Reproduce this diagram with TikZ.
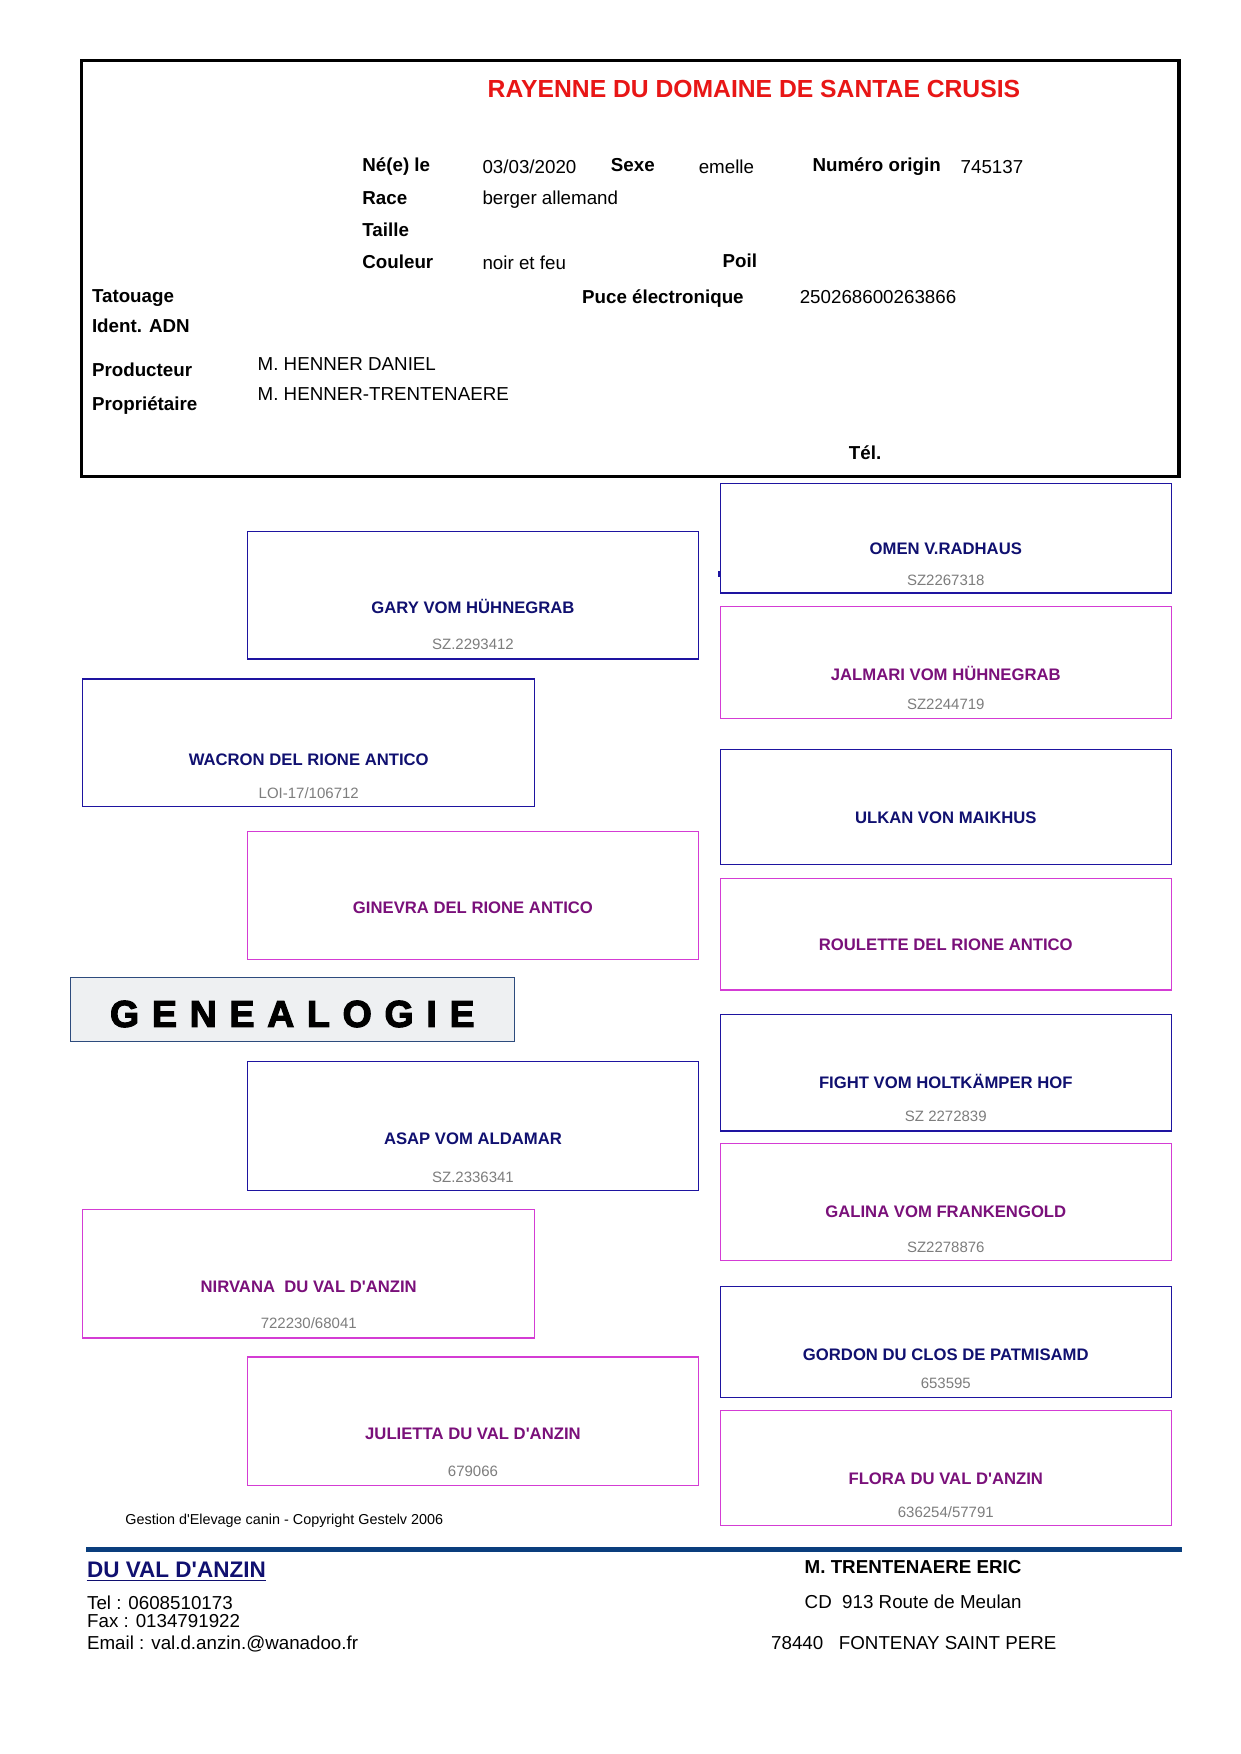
\documentclass[tikz,border=0pt]{standalone}
\usepackage{fontspec}
\setmainfont{Liberation Sans}
\newfontfamily\blackfont[FakeBold=3]{Liberation Sans Bold}
\newcommand{\apo}{\textquotesingle}
\definecolor{navyT}{RGB}{16,16,112}
\definecolor{purpT}{RGB}{122,16,122}
\definecolor{grayT}{RGB}{125,125,125}
\definecolor{boxB}{RGB}{30,20,160}
\definecolor{boxM}{RGB}{212,60,212}
\definecolor{titleR}{RGB}{232,22,22}
\definecolor{footB}{RGB}{10,62,125}
\definecolor{genFill}{RGB}{238,240,242}
\definecolor{genDraw}{RGB}{45,75,125}
\begin{document}
\begin{tikzpicture}[x=0.5367pt,y=-0.5367pt,
  lab/.style={font=\fontsize{9}{10}\selectfont\bfseries, anchor=base west, inner sep=0pt},
  val/.style={font=\fontsize{9}{10}\selectfont, anchor=base west, inner sep=0pt},
  nmb/.style={font=\fontsize{8}{9}\selectfont\bfseries, text=navyT, anchor=base, inner sep=0pt},
  nmm/.style={nmb, text=purpT},
  reg/.style={font=\fontsize{7.2}{8}\selectfont, text=grayT, anchor=base, inner sep=0pt},
  bbox/.style={draw=boxB, line width=0.6pt},
  mbox/.style={draw=boxM, line width=0.6pt}]
\useasboundingbox (0,0) rectangle (1109,1568);
\fill[white] (0,0) rectangle (1109,1568);

% ---------- header box ----------
\draw[line width=1.6pt] (73,54) rectangle (1054,426);
\node[font=\fontsize{11.85}{13}\selectfont\bfseries, text=titleR, anchor=base, inner sep=0pt] (title) at (674,87) {RAYENNE DU DOMAINE DE SANTAE CRUSIS};

\node[lab] (nele) at (323.6,153.5) {Né(e) le};
\node[val] (datev) at (431,155) {03/03/2020};
\node[lab] (sexe) at (545.8,153.5) {Sexe};
\node[val] (sexev) at (624.3,155) {emelle};
\node[lab] (numorig) at (726,153.5) {Numéro origin};
\node[val] (numv) at (858.4,155) {745137};
\node[lab] (race) at (323.6,182.5) {Race};
\node[val] (racev) at (431,182.5) {berger allemand};
\node[lab] (taille) at (323.6,211) {Taille};
\node[lab] (couleur) at (323.6,240) {Couleur};
\node[val] (coulv) at (431,240.6) {noir et feu};
\node[lab] (poil) at (645.7,239) {Poil};
\node[lab] (tatouage) at (81.9,270) {Tatouage};
\node[lab] (puce) at (520,271.3) {Puce électronique};
\node[val] (pucev) at (714.6,271.3) {250268600263866};
\node[lab] (adn) at (81.9,297.5) {Ident. ADN};
\node[lab] (prod) at (81.9,336.9) {Producteur};
\node[val] (prodv) at (230,331.5) {M. HENNER DANIEL};
\node[lab] (prop) at (81.9,366.7) {Propriétaire};
\node[val] (propv) at (230,357.7) {M. HENNER-TRENTENAERE};
\node[lab] (tel) at (758.5,410.8) {Tél.};

% ---------- generation 1 ----------
\draw[bbox] (74,607) rectangle (478,721);
\node[nmb] (wacron) at (276,684) {WACRON DEL RIONE ANTICO};
\node[reg] (wacronr) at (276,713.5) {LOI-17/106712};
\draw[mbox] (74,1081) rectangle (478,1196);
\node[nmm] (nirvana) at (276,1155) {NIRVANA~~DU VAL D\apo ANZIN};
\node[reg] (nirvanar) at (276,1187.5) {722230/68041};

% ---------- generation 2 ----------
\draw[bbox] (221,475) rectangle (624.5,589);
\node[nmb] (gary) at (422.8,548) {GARY VOM HÜHNEGRAB};
\node[reg] (garyr) at (422.8,580.5) {SZ.2293412};
\draw[mbox] (221,743) rectangle (624.5,858);
\node[nmm] (ginevra) at (422.8,817) {GINEVRA DEL RIONE ANTICO};
\draw[bbox] (221,949) rectangle (624.5,1064);
\node[nmb] (asap) at (422.8,1023) {ASAP VOM ALDAMAR};
\node[reg] (asapr) at (422.8,1057.5) {SZ.2336341};
\draw[mbox] (221,1213) rectangle (624.5,1328);
\node[nmm] (julietta) at (422.8,1287) {JULIETTA DU VAL D\apo ANZIN};
\node[reg] (juliettar) at (422.8,1319.5) {679066};

% ---------- generation 3 ----------
\draw[bbox] (644,432.5) rectangle (1047,530);
\draw[boxB, line width=1.1pt] (643.3,510.5) -- (643.3,516);
\node[nmb] (omen) at (845.5,496) {OMEN V.RADHAUS};
\node[reg] (omenr) at (845.5,523.5) {SZ2267318};
\draw[mbox] (644,542) rectangle (1047,642);
\node[nmm] (jalmari) at (845.5,608) {JALMARI VOM HÜHNEGRAB};
\node[reg] (jalmarir) at (845.5,634.5) {SZ2244719};
\draw[bbox] (644,670) rectangle (1047,773);
\node[nmb] (ulkan) at (845.5,736) {ULKAN VON MAIKHUS};
\draw[mbox] (644,785) rectangle (1047,885);
\node[nmm] (roulette) at (845.5,850) {ROULETTE DEL RIONE ANTICO};
\draw[bbox] (644,907) rectangle (1047,1011);
\node[nmb] (fight) at (845.5,973) {FIGHT VOM HOLTKÄMPER HOF};
\node[reg] (fightr) at (845.5,1002.5) {SZ 2272839};
\draw[mbox] (644,1022) rectangle (1047,1127);
\node[nmm] (galina) at (845.5,1088) {GALINA VOM FRANKENGOLD};
\node[reg] (galinar) at (845.5,1119.5) {SZ2278876};
\draw[bbox] (644,1150) rectangle (1047,1249);
\node[nmb] (gordon) at (845.5,1216) {GORDON DU CLOS DE PATMISAMD};
\node[reg] (gordonr) at (845.5,1241.5) {653595};
\draw[mbox] (644,1261) rectangle (1047,1364);
\node[nmm] (flora) at (845.5,1327) {FLORA DU VAL D\apo ANZIN};
\node[reg] (florar) at (845.5,1356.5) {636254/57791};

% ---------- GENEALOGIE banner ----------
\draw[fill=genFill, draw=genDraw, line width=0.6pt] (63,874) rectangle (460,931);
\node[font=\fontsize{18}{20}\blackfont, anchor=base west, inner sep=0pt] (genea) at (98,918)
  {G\hspace{6.1pt}E\hspace{6.1pt}N\hspace{6.1pt}E\hspace{6.1pt}A\hspace{6.1pt}L\hspace{6.1pt}O\hspace{6.1pt}G\hspace{6.1pt}I\hspace{6.1pt}E};

% ---------- footer ----------
\node[font=\fontsize{6.9}{8}\selectfont, anchor=base west, inner sep=0pt] (copyr) at (111.8,1363) {Gestion d\apo Elevage canin - Copyright Gestelv 2006};
\draw[footB, line width=2.4pt] (77,1385.5) -- (1057,1385.5);
\node[font=\fontsize{10.8}{12}\selectfont\bfseries, text=navyT, anchor=base west, inner sep=0pt] (kennel) at (77.5,1410) {DU VAL D\apo ANZIN};
\draw[navyT, line width=0.8pt] ([yshift=-1.5pt]kennel.base west) -- ([yshift=-1.5pt]kennel.base east);
\node[val] (ftel) at (77.5,1438.5) {Tel : 0608510173};
\node[val] (ffax) at (77.5,1454.9) {Fax : 0134791922};
\node[val] (fmail) at (77.5,1474.2) {Email : val.d.anzin.@wanadoo.fr};
\node[lab] (owner) at (719,1406.5) {M. TRENTENAERE ERIC};
\node[val] (addr) at (719,1437.5) {CD~~913 Route de Meulan};
\node[val] (city) at (689,1474.2) {78440~~~FONTENAY SAINT PERE};
\end{tikzpicture}
\end{document}
